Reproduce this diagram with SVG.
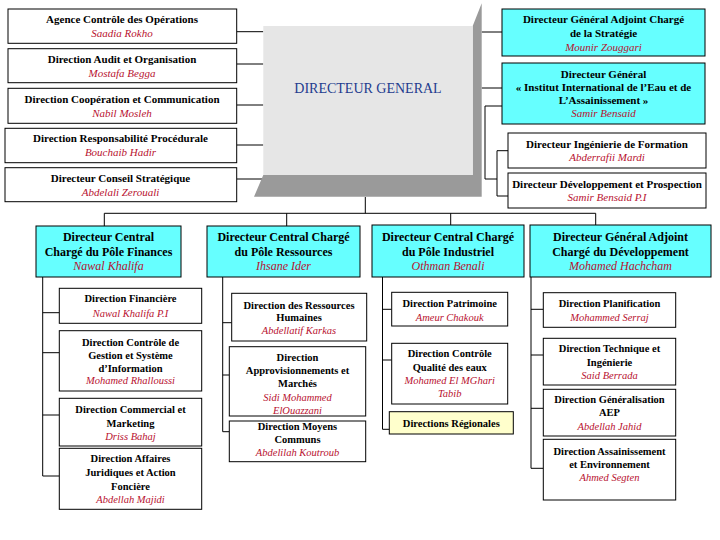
<svg xmlns="http://www.w3.org/2000/svg" width="720" height="540" viewBox="0 0 720 540">
<style>
.b{fill:#fff;stroke:#000;stroke-width:1}
.cy{fill:#66FFFF;stroke:#000;stroke-width:1}
.ye{fill:#FFFFCC;stroke:#000;stroke-width:1}
text{font-family:"Liberation Serif","Times New Roman",serif;text-anchor:middle}
.t{font-weight:bold;font-size:11px;fill:#000}
.n{font-style:italic;font-size:11px;fill:#B8112F}
.s{font-weight:bold;font-size:10.5px;fill:#000}
.sn{font-style:italic;font-size:10.5px;fill:#B8112F}
.c{font-weight:bold;font-size:12px;fill:#000}
.cn{font-style:italic;font-size:12px;fill:#B8112F}
.ln{fill:none;stroke:#000;stroke-width:1}
</style>
<rect width="720" height="540" fill="#fff"/>
<g id="connectors" class="ln">
<path d="M236.7 31.7H263.3M236.7 64H263.3M236.7 105H263.3M236.7 145H263.3M236.7 179H262"/>
<path d="M481.7 32H502M481.7 88H502M502 106H485V179H497M497 150.7V196M497 150.7H508M497 196H508"/>
<path d="M365.3 197V213.3M104.3 213.3H595.7M104.3 213.3V226M286.7 213.3V226M450.7 213.3V225M595.7 213.3V225"/>
<path d="M42.7 277V476M42.7 312.7H59.3M42.7 352.7H59.3M42.7 415H59.3M42.7 476H59.3"/>
<path d="M222.7 277V431.7M222.7 322.7H231.7M222.7 375H229.3M222.7 431.7H229.3"/>
<path d="M382.5 277V429.3M382.5 309.3H391.7M382.5 360H391.7M382.5 429.3H389.3"/>
<path d="M531 277V468.3M531 309.3H543.3M531 355H543.3M531 408.3H543.3M531 468.3H543.3"/>
</g>
<g id="dg">
<polygon points="263.3,175 472.7,175 472.7,26 481.7,3.3 481.7,196.7 254,196.7" fill="#9A9A9A"/>
<rect x="263.3" y="26" width="209.4" height="149" fill="#E6E6E6"/>
<text x="368" y="93" style="font-size:14px;fill:#1F3C8F">DIRECTEUR GENERAL</text>
</g>
<g id="agence"><rect class="b" x="8" y="9" width="228.7" height="34.3"/><text class="t" x="122" y="23">Agence Contrôle des Opérations</text><text class="n" x="122" y="37">Saadia Rokho</text></g>
<g id="audit"><rect class="b" x="8" y="48.7" width="228.7" height="34"/><text class="t" x="122" y="63">Direction Audit et Organisation</text><text class="n" x="122" y="77">Mostafa Begga</text></g>
<g id="coop"><rect class="b" x="8" y="88.3" width="228.7" height="35"/><text class="t" x="122" y="103">Direction Coopération et Communication</text><text class="n" x="122" y="117">Nabil Mosleh</text></g>
<g id="resp"><rect class="b" x="5" y="128.3" width="231.7" height="34.4"/><text class="t" x="120.5" y="142">Direction Responsabilité Procédurale</text><text class="n" x="120.5" y="156">Bouchaib Hadir</text></g>
<g id="conseil"><rect class="b" x="5" y="167.7" width="231.7" height="34"/><text class="t" x="120.5" y="182">Directeur Conseil Stratégique</text><text class="n" x="120.5" y="196">Abdelali Zerouali</text></g>
<g id="dga-strat"><rect class="cy" x="502" y="9" width="203" height="47"/><text class="t" x="603.5" y="23">Directeur Général Adjoint Chargé</text><text class="t" x="603.5" y="37">de la Stratégie</text><text class="n" x="603.5" y="51">Mounir Zouggari</text></g>
<g id="iiea"><rect class="cy" x="502" y="63" width="203" height="61"/><text class="t" x="603.5" y="78">Directeur Général</text><text class="t" x="603.5" y="91">« Institut International de l’Eau et de</text><text class="t" x="603.5" y="104">L’Assainissement »</text><text class="n" x="603.5" y="117">Samir Bensaid</text></g>
<g id="ingenierie"><rect class="b" x="508" y="133" width="198" height="35"/><text class="t" x="607" y="148">Directeur Ingénierie de Formation</text><text class="n" x="607" y="161">Abderrafii Mardi</text></g>
<g id="developpement"><rect class="b" x="508" y="173" width="198" height="35"/><text class="t" x="607" y="188">Directeur Développement et Prospection</text><text class="n" x="607" y="201">Samir Bensaid P.I</text></g>
<g id="pole-finances"><rect class="cy" x="36" y="226" width="145" height="51"/><text class="c" x="108.5" y="241">Directeur Central</text><text class="c" x="108.5" y="256">Chargé du Pôle Finances</text><text class="cn" x="108.5" y="270">Nawal Khalifa</text></g>
<g id="pole-ressources"><rect class="cy" x="207" y="226" width="153" height="51"/><text class="c" x="283.5" y="241">Directeur Central Chargé</text><text class="c" x="283.5" y="256">du Pôle Ressources</text><text class="cn" x="283.5" y="270">Ihsane Ider</text></g>
<g id="pole-industriel"><rect class="cy" x="372" y="225" width="152" height="52"/><text class="c" x="448" y="241">Directeur Central Chargé</text><text class="c" x="448" y="256">du Pôle Industriel</text><text class="cn" x="448" y="270">Othman Benali</text></g>
<g id="dga-dev"><rect class="cy" x="530" y="225" width="181" height="52"/><text class="c" x="620.5" y="241">Directeur Général Adjoint</text><text class="c" x="620.5" y="256">Chargé du Développement</text><text class="cn" x="620.5" y="270">Mohamed Hachcham</text></g>
<g id="f1"><rect class="b" x="59.3" y="288.3" width="142.4" height="35"/><text class="s" x="130.5" y="302">Direction Financière</text><text class="sn" x="130.5" y="316.5">Nawal Khalifa P.I</text></g>
<g id="f2"><rect class="b" x="59.3" y="330.7" width="142.4" height="60.3"/><text class="s" x="130.5" y="345.5">Direction Contrôle de</text><text class="s" x="130.5" y="358.8">Gestion et Système</text><text class="s" x="130.5" y="371.5">d’Information</text><text class="sn" x="130.5" y="383.8">Mohamed Rhalloussi</text></g>
<g id="f3"><rect class="b" x="59.3" y="398.3" width="142.4" height="47.7"/><text class="s" x="130.5" y="412.8">Direction Commercial et</text><text class="s" x="130.5" y="426.5">Marketing</text><text class="sn" x="130.5" y="439.5">Driss Bahaj</text></g>
<g id="f4"><rect class="b" x="59.3" y="448.3" width="142.4" height="61"/><text class="s" x="130.5" y="462">Direction Affaires</text><text class="s" x="130.5" y="476">Juridiques et Action</text><text class="s" x="130.5" y="489.8">Foncière</text><text class="sn" x="130.5" y="502.8">Abdellah Majidi</text></g>
<g id="r1"><rect class="b" x="231.7" y="293.3" width="135" height="47.7"/><text class="s" x="299" y="308.8">Direction des Ressources</text><text class="s" x="299" y="321">Humaines</text><text class="sn" x="299" y="333.8">Abdellatif Karkas</text></g>
<g id="r2"><rect class="b" x="229.3" y="346.7" width="136.4" height="69.3"/><text class="s" x="297.5" y="361">Direction</text><text class="s" x="297.5" y="373.8">Approvisionnements et</text><text class="s" x="297.5" y="387">Marchés</text><text class="sn" x="297.5" y="400.5">Sidi Mohammed</text><text class="sn" x="297.5" y="413.8">ElOuazzani</text></g>
<g id="r3"><rect class="b" x="229.3" y="421" width="136.4" height="40.7"/><text class="s" x="297.5" y="429.8">Direction Moyens</text><text class="s" x="297.5" y="442.8">Communs</text><text class="sn" x="297.5" y="455.5">Abdelilah Koutroub</text></g>
<g id="i1"><rect class="b" x="391.7" y="292.3" width="116" height="33.7"/><text class="s" x="449.7" y="307">Direction Patrimoine</text><text class="sn" x="449.7" y="320.5">Ameur Chakouk</text></g>
<g id="i2"><rect class="b" x="391.7" y="343.3" width="116" height="60.7"/><text class="s" x="449.7" y="356.5">Direction Contrôle</text><text class="s" x="449.7" y="371">Qualité des eaux</text><text class="sn" x="449.7" y="383.8">Mohamed El MGhari</text><text class="sn" x="449.7" y="397">Tabib</text></g>
<g id="i3"><rect class="ye" x="389.3" y="411.7" width="124" height="22.3"/><text class="s" x="451.3" y="426.5">Directions Régionales</text></g>
<g id="d1"><rect class="b" x="543.3" y="292.7" width="132.4" height="34.6"/><text class="s" x="609.5" y="307">Direction Planification</text><text class="sn" x="609.5" y="320.5">Mohammed Serraj</text></g>
<g id="d2"><rect class="b" x="543.3" y="338.3" width="132.4" height="46.7"/><text class="s" x="609.5" y="352">Direction Technique et</text><text class="s" x="609.5" y="365.5">Ingénierie</text><text class="sn" x="609.5" y="378.8">Said Berrada</text></g>
<g id="d3"><rect class="b" x="543.3" y="389.3" width="132.4" height="46.7"/><text class="s" x="609.5" y="402.8">Direction Généralisation</text><text class="s" x="609.5" y="416">AEP</text><text class="sn" x="609.5" y="429.5">Abdellah Jahid</text></g>
<g id="d4"><rect class="b" x="543.3" y="439.3" width="132.4" height="60.7"/><text class="s" x="609.5" y="454.5">Direction Assainissement</text><text class="s" x="609.5" y="468">et Environnement</text><text class="sn" x="609.5" y="481">Ahmed Segten</text></g>
</svg>
